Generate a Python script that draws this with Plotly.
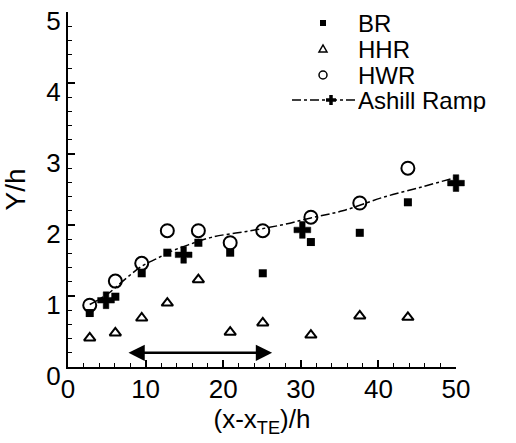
import plotly.graph_objects as go

# ---- data ----
x_stations = [2.8, 6.1, 9.5, 12.8, 16.8, 20.9, 25.1, 31.3, 37.6, 43.8]
br_y  = [0.76, 0.99, 1.32, 1.61, 1.75, 1.61, 1.32, 1.76, 1.89, 2.32]
hhr_y = [0.41, 0.48, 0.69, 0.90, 1.23, 0.49, 0.62, 0.45, 0.72, 0.70]
hwr_y = [0.87, 1.21, 1.46, 1.92, 1.92, 1.75, 1.92, 2.11, 2.31, 2.80]

ashill_x = [4.9, 14.9, 30.2, 50.0]
ashill_y = [0.94, 1.58, 1.93, 2.59]

# dash-dot fit curve of the Ashill ramp data
ashill_curve_x = [2.8, 5.0, 7.5, 9.5, 11.5, 13.1, 15.5, 18.6, 23.0, 27.5, 31.3, 35.4, 40.6, 45.7, 50.0]
ashill_curve_y = [0.88, 1.02, 1.25, 1.42, 1.53, 1.62, 1.72, 1.83, 1.91, 2.00, 2.10, 2.20, 2.39, 2.54, 2.67]

# double-headed arrow (range indicator)
arrow_x = [7.6, 26.3]
arrow_y = [0.20, 0.20]

x_ticks = [0, 10, 20, 30, 40, 50]
y_ticks = [0, 1, 2, 3, 4, 5]

legend_names = ["BR", "HHR", "HWR", "Ashill Ramp"]

FONT = "Liberation Sans, Arial, Helvetica, sans-serif"

fig = go.Figure()

fig.add_trace(go.Scatter(
    x=x_stations, y=br_y, mode="markers", name="BR", cliponaxis=False, showlegend=False,
    marker=dict(symbol="square", size=8, color="black"),
))
fig.add_trace(go.Scatter(
    x=x_stations, y=hhr_y, mode="markers", name="HHR", cliponaxis=False, showlegend=False,
    marker=dict(symbol="triangle-up-open", size=10, color="black", line=dict(width=2, color="black")),
))
fig.add_trace(go.Scatter(
    x=x_stations, y=hwr_y, mode="markers", name="HWR", cliponaxis=False, showlegend=False,
    marker=dict(symbol="circle-open", size=13, color="black", line=dict(width=2, color="black")),
))
fig.add_trace(go.Scatter(
    x=ashill_curve_x, y=ashill_curve_y, mode="lines", name="Ashill Ramp fit", showlegend=False,
    line=dict(color="black", width=1.5, dash="dashdot", shape="spline"),
    hoverinfo="skip",
))
fig.add_trace(go.Scatter(
    x=ashill_x, y=ashill_y, mode="markers", name="Ashill Ramp", showlegend=False, cliponaxis=False,
    marker=dict(symbol="cross", size=14, color="black", line=dict(width=0.5, color="black")),
))

fig.add_annotation(
    x=arrow_x[1], y=arrow_y[1], ax=arrow_x[0], ay=arrow_y[0],
    xref="x", yref="y", axref="x", ayref="y",
    text="", showarrow=True, arrowhead=2, startarrowhead=2, arrowside="end+start",
    arrowsize=1.3, startarrowsize=1.3, arrowwidth=2.5, arrowcolor="black",
)

# ---- hand-made legend (matches the compact reference legend) ----
row_py = [23, 49, 75, 100]                # row centres, pixels from top
plot_top, plot_bottom, plot_left, plot_w = 12, 367, 68, 388
def py2paper(py):
    return (plot_bottom - py) / (plot_bottom - plot_top)
sym_x = (323 - plot_left) / plot_w
txt_x = (357 - plot_left) / plot_w

for name, py in zip(legend_names, row_py):
    fig.add_annotation(
        x=txt_x, y=py2paper(py), xref="paper", yref="paper",
        text=name, showarrow=False, xanchor="left", yanchor="middle",
        borderpad=0, height=24,
        font=dict(family=FONT, size=24, color="black"),
    )

pix = dict(xref="paper", yref="paper", xsizemode="pixel", ysizemode="pixel")
# BR: filled square
fig.add_shape(type="rect", xanchor=sym_x, yanchor=py2paper(row_py[0]), x0=-3, x1=3, y0=-3, y1=3,
              fillcolor="black", line=dict(color="black", width=0), **pix)
# HHR: open triangle
fig.add_shape(type="path", xanchor=sym_x, yanchor=py2paper(row_py[1]),
              path="M -4,-3 L 4,-3 L 0,4 Z", line=dict(color="black", width=1.5), **pix)
# HWR: open circle
fig.add_shape(type="circle", xanchor=sym_x, yanchor=py2paper(row_py[2]), x0=-4, x1=4, y0=-4, y1=4,
              line=dict(color="black", width=1.5), **pix)
# Ashill: dash-dot line with thick plus
ax_anchor = (331 - plot_left) / plot_w
fig.add_shape(type="line", xanchor=ax_anchor, yanchor=py2paper(row_py[3]), x0=-39, x1=25, y0=0, y1=0,
              line=dict(color="black", width=1.5, dash="dashdot"), **pix)
fig.add_shape(type="line", xanchor=ax_anchor, yanchor=py2paper(row_py[3]), x0=-5, x1=5, y0=0, y1=0,
              line=dict(color="black", width=3.5), **pix)
fig.add_shape(type="line", xanchor=ax_anchor, yanchor=py2paper(row_py[3]), x0=0, x1=0, y0=-5, y1=5,
              line=dict(color="black", width=3.5), **pix)

axis_common = dict(
    showline=True, linecolor="black", linewidth=2,
    ticks="inside", ticklen=7, tickwidth=1.5, tickcolor="black",
    showgrid=False, zeroline=False, mirror=False,
    tickfont=dict(family=FONT, size=26, color="black"),
    ticklabeloverflow="allow", automargin=False,
)

fig.update_xaxes(
    range=[0, 50], tickvals=x_ticks, ticktext=[str(v) for v in x_ticks],
    minor=dict(dtick=2, tick0=0, ticks="inside", ticklen=4, tickwidth=1.2, tickcolor="black", showgrid=False),
    title=dict(text="(x-x<sub>TE</sub>)/h", font=dict(family=FONT, size=26, color="black"), standoff=0),
    ticklabelstandoff=-2,
    **axis_common,
)
fig.update_yaxes(
    range=[0, 5], tickvals=y_ticks, ticktext=[str(v) for v in y_ticks],
    minor=dict(dtick=0.2, tick0=0, ticks="inside", ticklen=4, tickwidth=1.2, tickcolor="black", showgrid=False),
    title=dict(text="Y/h", font=dict(family=FONT, size=28, color="black"), standoff=16),
    ticklabelstandoff=0, ticklabelshift=9,
    **axis_common,
)

fig.update_layout(
    width=516, height=443,
    margin=dict(l=plot_left, r=516 - plot_left - plot_w, t=plot_top, b=443 - plot_bottom, autoexpand=False),
    paper_bgcolor="white", plot_bgcolor="white",
    showlegend=False,
)

# remove the browser's default 8px body margin so the figure fills the window exactly
fig.write_html(
    "out.html",
    config={"displayModeBar": False},
    post_script="document.body.style.margin='0';document.body.style.overflow='hidden';",
)
